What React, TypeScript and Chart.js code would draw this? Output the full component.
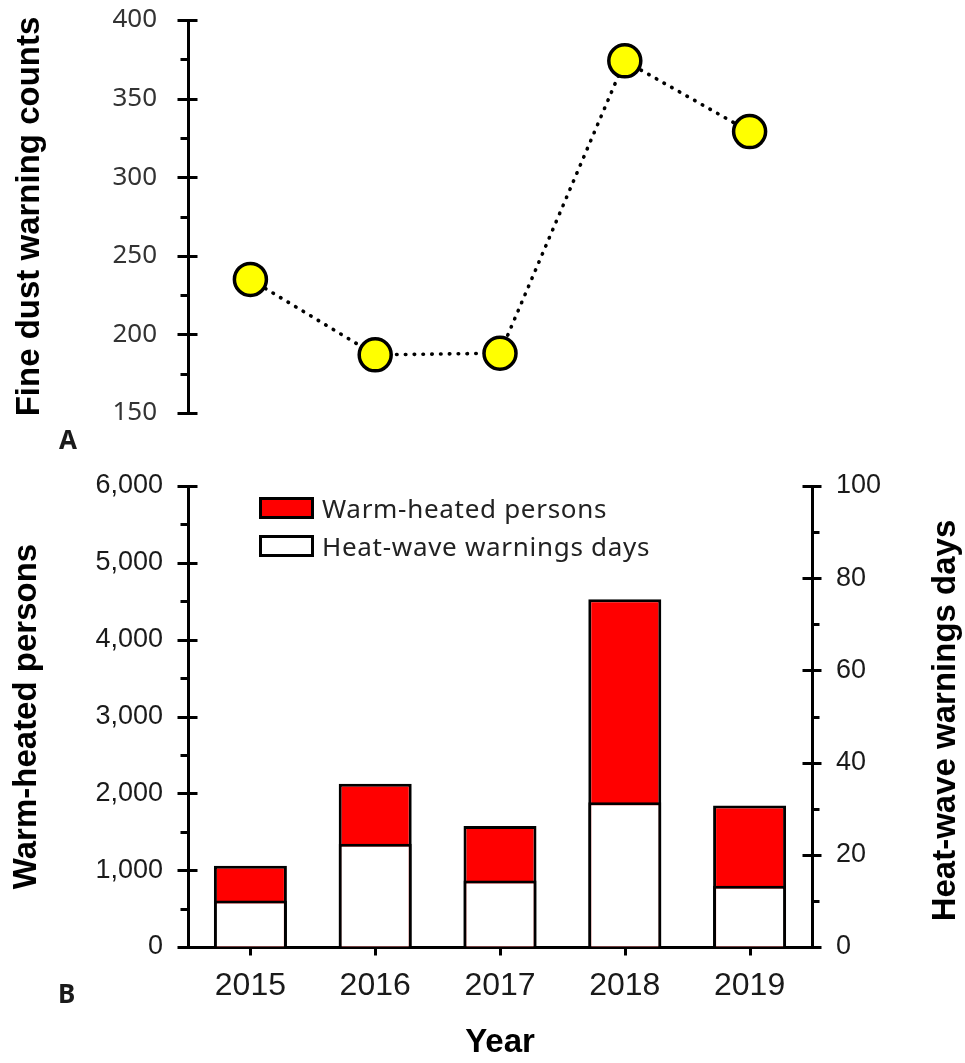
import React, { useEffect, useRef } from "react";
import { Chart, registerables } from "chart.js";

Chart.register(...registerables);

// ---------- data ----------
const years = ["2015", "2016", "2017", "2018", "2019"];
const fineDustWarnings = [235, 187, 188, 374, 329];
const warmHeatedPersons = [1056, 2125, 1574, 4526, 1841];
const heatWaveDays = [10.1, 22.4, 14.4, 31.4, 13.3];

const fineDustTickLabels = ["150", "200", "250", "300", "350", "400"];
const personsTickLabels = ["0", "1,000", "2,000", "3,000", "4,000", "5,000", "6,000"];
const daysTickLabels = ["0", "20", "40", "60", "80", "100"];

const W = 965;
const H_A = 460;
const H_B = 603;

const TITLE_FONT = { family: "'Liberation Sans', Arial, sans-serif", size: 33, weight: "bold" as const };

// invisible grid whose tick length only offsets the labels
const hiddenGrid = (len: number) => ({
  display: true,
  drawOnChartArea: false,
  drawTicks: true,
  tickLength: len,
  color: "rgba(0,0,0,0)",
});

// Custom tick marks drawn from the library scales
function tickMarksPlugin(opts: { left?: string; right?: string; bottom?: string }) {
  return {
    id: "tickMarks",
    afterDraw(chart: any) {
      const ctx = chart.ctx;
      const area = chart.chartArea;
      ctx.save();
      ctx.strokeStyle = "#000";
      ctx.lineWidth = 3;
      ctx.lineCap = "butt";
      const line = (x1: number, y1: number, x2: number, y2: number) => {
        ctx.beginPath();
        ctx.moveTo(x1, y1);
        ctx.lineTo(x2, y2);
        ctx.stroke();
      };
      if (opts.left) {
        const sc = chart.scales[opts.left];
        const x0 = area.left + 0.5;
        const vals = sc.ticks.map((t: any) => t.value);
        vals.forEach((v: number, i: number) => {
          const y = Math.round(sc.getPixelForValue(v)) + 0.5;
          line(x0 - 11, y, x0 + 9, y);
          if (i < vals.length - 1) {
            const m = Math.round(sc.getPixelForValue((v + vals[i + 1]) / 2)) + 0.5;
            line(x0 - 8, m, x0, m);
          }
        });
      }
      if (opts.right) {
        const sc = chart.scales[opts.right];
        const x0 = area.right + 0.5;
        const vals = sc.ticks.map((t: any) => t.value);
        vals.forEach((v: number, i: number) => {
          const y = Math.round(sc.getPixelForValue(v)) + 0.5;
          line(x0 - 10, y, x0 + 9, y);
          if (i < vals.length - 1) {
            const m = Math.round(sc.getPixelForValue((v + vals[i + 1]) / 2)) + 0.5;
            line(x0, m, x0 + 7, m);
          }
        });
      }
      if (opts.bottom) {
        const sc = chart.scales[opts.bottom];
        const y0 = area.bottom + 0.5;
        sc.ticks.forEach((_t: any, i: number) => {
          const x = Math.round(sc.getPixelForValue(i)) + 0.5;
          line(x, y0, x, y0 + 8);
        });
      }
      ctx.restore();
    },
  };
}

function panelLabelPlugin(text: string, x: number, y: number) {
  return {
    id: "panelLabel" + text,
    afterDraw(chart: any) {
      const ctx = chart.ctx;
      ctx.save();
      ctx.font = "bold 26px 'Noto Sans', sans-serif";
      ctx.fillStyle = "#1a1a1a";
      ctx.textAlign = "left";
      ctx.textBaseline = "alphabetic";
      ctx.fillText(text, x, y);
      ctx.restore();
    },
  };
}

const legendAndRightTitlePlugin = {
  id: "legendRightTitle",
  afterDraw(chart: any) {
    const ctx = chart.ctx;
    const area = chart.chartArea;
    ctx.save();
    // legend
    const lx = area.left + 71;
    const ly = area.top + 11;
    chart.data.datasets.forEach((ds: any, i: number) => {
      const top = ly + i * 38;
      ctx.fillStyle = ds.backgroundColor;
      ctx.fillRect(lx, top, 55, 22);
      ctx.strokeStyle = "#000";
      ctx.lineWidth = 3;
      ctx.strokeRect(lx + 1.5, top + 1.5, 52, 19);
      ctx.font = "26px 'Noto Sans', sans-serif";
      try {
        (ctx as any).letterSpacing = "0.7px";
      } catch (e) {}
      ctx.fillStyle = "#222";
      ctx.textAlign = "left";
      ctx.textBaseline = "alphabetic";
      ctx.fillText(ds.label, lx + 63, top + 21);
    });
    try {
      (ctx as any).letterSpacing = "0px";
    } catch (e) {}
    // right axis title (reads bottom to top)
    ctx.translate(955, (area.top + area.bottom) / 2 + 4);
    ctx.rotate(-Math.PI / 2);
    ctx.font = "bold 33px 'Liberation Sans', Arial, sans-serif";
    ctx.fillStyle = "#000";
    ctx.textAlign = "center";
    ctx.textBaseline = "alphabetic";
    ctx.fillText("Heat-wave warnings days", 0, 0);
    ctx.restore();
  },
};

function PanelA() {
  const ref = useRef<HTMLCanvasElement | null>(null);
  useEffect(() => {
    if (!ref.current) return;
    const chart = new Chart(ref.current, {
      type: "line",
      data: {
        labels: years,
        datasets: [
          {
            label: "Fine dust warning counts",
            data: fineDustWarnings,
            borderColor: "#000",
            borderWidth: 3.6,
            borderDash: [0.5, 8.3],
            borderCapStyle: "round",
            pointRadius: 16,
            pointHoverRadius: 16,
            pointBackgroundColor: "#FFFF00",
            pointBorderColor: "#000",
            pointBorderWidth: 3.5,
            fill: false,
            tension: 0,
          },
        ],
      },
      options: {
        responsive: false,
        maintainAspectRatio: false,
        animation: false,
        events: [],
        layout: { padding: { top: 20, bottom: H_A - 413, left: 0, right: W - 812 } },
        plugins: { legend: { display: false }, tooltip: { enabled: false } },
        scales: {
          x: { type: "category", offset: true, display: false },
          y: {
            type: "linear",
            min: 150,
            max: 400,
            grid: hiddenGrid(31),
            border: { display: true, color: "#000", width: 3 },
            ticks: {
              stepSize: 50,
              padding: 0,
              color: "#333",
              font: { family: "'Noto Sans', sans-serif", size: 26 },
              callback: (_v: any, i: number) => fineDustTickLabels[i],
            },
            title: {
              display: true,
              text: "Fine dust warning counts",
              color: "#000",
              font: TITLE_FONT,
              padding: { top: 10, bottom: 0 },
            },
            afterFit: (s: any) => {
              s.width = 188;
            },
          },
        },
      },
      plugins: [tickMarksPlugin({ left: "y" }), panelLabelPlugin("A", 59, 449)],
    } as any);
    return () => chart.destroy();
  }, []);
  return (
    <canvas
      ref={ref}
      width={W}
      height={H_A}
      style={{ position: "absolute", left: 0, top: 0, width: W, height: H_A, display: "block" }}
    />
  );
}

function PanelB() {
  const ref = useRef<HTMLCanvasElement | null>(null);
  useEffect(() => {
    if (!ref.current) return;
    const chart = new Chart(ref.current, {
      type: "bar",
      data: {
        labels: years,
        datasets: [
          {
            label: "Warm-heated persons",
            data: warmHeatedPersons,
            yAxisID: "y",
            backgroundColor: "#FF0000",
            borderColor: "#000",
            borderWidth: 3,
            borderSkipped: "start",
            inflateAmount: 0,
            grouped: false,
            order: 2,
            barPercentage: 0.585,
            categoryPercentage: 1,
          },
          {
            label: "Heat-wave warnings days",
            data: heatWaveDays,
            yAxisID: "y1",
            backgroundColor: "#FFFFFF",
            borderColor: "#000",
            borderWidth: 3,
            borderSkipped: "start",
            inflateAmount: 0,
            grouped: false,
            order: 1,
            barPercentage: 0.585,
            categoryPercentage: 1,
          },
        ],
      },
      options: {
        responsive: false,
        maintainAspectRatio: false,
        animation: false,
        events: [],
        layout: { padding: { top: 26, bottom: 0, left: 0, right: 0 } },
        plugins: { legend: { display: false }, tooltip: { enabled: false } },
        scales: {
          x: {
            type: "category",
            offset: true,
            z: 1,
            grid: { display: false, drawTicks: false },
            border: { display: true, color: "#000", width: 3 },
            ticks: {
              padding: 20,
              color: "#1a1a1a",
              font: { family: "'Liberation Sans', Arial, sans-serif", size: 32 },
            },
            title: {
              display: true,
              text: "Year",
              color: "#000",
              font: TITLE_FONT,
              padding: { top: 0, bottom: 0 },
            },
            afterFit: (s: any) => {
              s.height = 116;
            },
          },
          y: {
            type: "linear",
            position: "left",
            min: 0,
            max: 6000,
            grid: hiddenGrid(25),
            border: { display: true, color: "#000", width: 3 },
            ticks: {
              stepSize: 1000,
              padding: 0,
              color: "#1a1a1a",
              font: { family: "'Liberation Sans', Arial, sans-serif", size: 27 },
              callback: (_v: any, i: number) => personsTickLabels[i],
            },
            title: {
              display: true,
              text: "Warm-heated persons",
              color: "#000",
              font: TITLE_FONT,
              padding: { top: 7, bottom: 0 },
            },
            afterFit: (s: any) => {
              s.width = 188;
            },
          },
          y1: {
            type: "linear",
            position: "right",
            min: 0,
            max: 100,
            grid: hiddenGrid(24),
            border: { display: true, color: "#000", width: 3 },
            ticks: {
              stepSize: 20,
              padding: 0,
              color: "#1a1a1a",
              font: { family: "'Liberation Sans', Arial, sans-serif", size: 27 },
              callback: (_v: any, i: number) => daysTickLabels[i],
            },
            afterFit: (s: any) => {
              s.width = W - 812;
            },
          },
        },
      },
      plugins: [
        tickMarksPlugin({ left: "y", right: "y1", bottom: "x" }),
        legendAndRightTitlePlugin,
        panelLabelPlugin("B", 58, 1003 - 460),
      ],
    } as any);
    return () => chart.destroy();
  }, []);
  return (
    <canvas
      ref={ref}
      width={W}
      height={H_B}
      style={{ position: "absolute", left: 0, top: H_A, width: W, height: H_B, display: "block" }}
    />
  );
}

export default function App() {
  return (
    <div
      style={{
        position: "absolute",
        left: 0,
        top: 0,
        width: W,
        height: H_A + H_B,
        background: "#fff",
        overflow: "hidden",
      }}
    >
      <PanelA />
      <PanelB />
    </div>
  );
}
